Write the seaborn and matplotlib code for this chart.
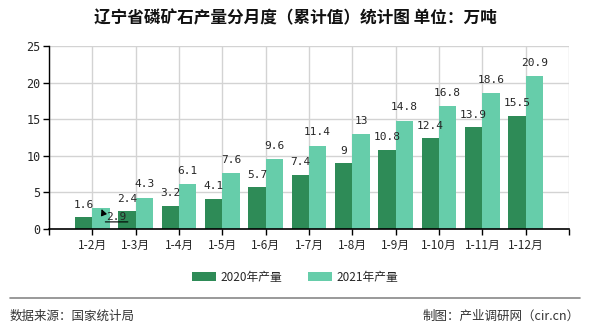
import numpy as np
import pandas as pd
import matplotlib
matplotlib.use("Agg")
import matplotlib.pyplot as plt
import seaborn as sns
from matplotlib.patches import Patch

categories = ["1-2月", "1-3月", "1-4月", "1-5月", "1-6月", "1-7月", "1-8月",
              "1-9月", "1-10月", "1-11月", "1-12月"]
series_names = ["2020年产量", "2021年产量"]
values_2020 = [1.6, 2.4, 3.2, 4.1, 5.7, 7.4, 9, 10.8, 12.4, 13.9, 15.5]
values_2021 = [2.9, 4.3, 6.1, 7.6, 9.6, 11.4, 13, 14.8, 16.8, 18.6, 20.9]
label_2020 = ["1.6", "2.4", "3.2", "4.1", "5.7", "7.4", "9", "10.8", "12.4", "13.9", "15.5"]
label_2021 = ["2.9", "4.3", "6.1", "7.6", "9.6", "11.4", "13", "14.8", "16.8", "18.6", "20.9"]
y_ticks = [0, 5, 10, 15, 20, 25]
colors = ["#2E8B57", "#66CDAA"]

title = "辽宁省磷矿石产量分月度（累计值）统计图 单位：万吨"
source_text = "数据来源：国家统计局"
maker_text = "制图：产业调研网（cir.cn）"

df = pd.DataFrame({
    "cat": categories * 2,
    "series": [series_names[0]] * len(categories) + [series_names[1]] * len(categories),
    "val": values_2020 + values_2021,
})

sns.set_theme(style="white")
plt.rcParams["font.family"] = ["Noto Sans CJK SC", "DejaVu Sans"]
plt.rcParams["axes.unicode_minus"] = False

fig = plt.figure(figsize=(5.9, 3.3), dpi=100)
ax = fig.add_axes([49 / 590, 1 - 229 / 330, (569 - 49) / 590, (229 - 46) / 330])

sns.barplot(data=df, x="cat", y="val", hue="series", palette=colors,
            width=0.8, ax=ax, saturation=1, legend=False, order=categories,
            hue_order=series_names, linewidth=0, edgecolor="none")

n = len(categories)
ax.set_xlim(-1, n)
ax.set_ylim(0, 25)
ax.set_yticks(y_ticks)
ax.set_yticklabels([str(v) for v in y_ticks], fontsize=8.5, family="DejaVu Sans Mono")
ax.set_xticks(np.arange(-1, n + 1))
ax.set_xticklabels([""] + categories + [""], fontsize=8.5)
ax.tick_params(axis="x", length=4, width=1, color="black", pad=3, bottom=True)
ax.tick_params(axis="y", length=4, width=1, color="black", pad=2, left=True)
ax.set_xlabel("")
ax.set_ylabel("")
ax.grid(True, color="#d3d3d3", linewidth=1)
ax.set_axisbelow(True)
for s in ["top", "right"]:
    ax.spines[s].set_visible(False)
ax.spines["left"].set_color("black")
ax.spines["bottom"].set_color("black")
ax.spines["left"].set_linewidth(1)
ax.spines["bottom"].set_linewidth(1.2)

# data labels
hw = 0.2
for i in range(n):
    ax.annotate(label_2020[i], xy=(i - hw, values_2020[i]), xytext=(0, 9),
                textcoords="offset points", ha="center", va="center",
                fontsize=8, family="DejaVu Sans Mono")
    if i == 0:
        # displaced label with leader arrow
        ax.annotate(label_2021[i], xy=(i + hw, values_2021[i]), xytext=(4, -10),
                    textcoords="offset points", ha="left", va="bottom",
                    fontsize=8, family="DejaVu Sans Mono",
                    arrowprops=dict(arrowstyle="-|>", color="black", lw=0.8,
                                    relpos=(0, 0), shrinkA=0, shrinkB=1,
                                    mutation_scale=9))
        ax.annotate("", xy=(i + hw + 0.62, values_2021[i] - 1.93),
                    xytext=(i + hw + 0.1, values_2021[i] - 1.93),
                    arrowprops=dict(arrowstyle="-", color="black", lw=0.8,
                                    shrinkA=0, shrinkB=0))
    else:
        ax.annotate(label_2021[i], xy=(i + hw, values_2021[i]), xytext=(0, 9.5),
                    textcoords="offset points", ha="center", va="center",
                    fontsize=8, family="DejaVu Sans Mono")

# title
fig.text(0.5, 1 - 18 / 330, title, ha="center", va="center", fontsize=12,
         fontweight="bold", color="#111111")

# legend
handles = [Patch(facecolor=colors[0], edgecolor="none"),
           Patch(facecolor=colors[1], edgecolor="none")]
fig.legend(handles, series_names, loc="center", bbox_to_anchor=(0.5, 1 - 277 / 330),
           ncol=2, frameon=False, fontsize=8.5, handlelength=2.0, handleheight=0.9,
           columnspacing=2.2, handletextpad=0.4)

# footer
fig.add_artist(plt.Line2D([10 / 590, 580 / 590], [1 - 298 / 330, 1 - 298 / 330],
                          color="#888888", linewidth=1.2, transform=fig.transFigure))
fig.text(10 / 590, 1 - 316 / 330, source_text, ha="left", va="center", fontsize=9,
         color="#333333")
fig.text(580 / 590, 1 - 316 / 330, maker_text, ha="right", va="center", fontsize=9,
         color="#333333")

fig.savefig("out.png", dpi=100)
